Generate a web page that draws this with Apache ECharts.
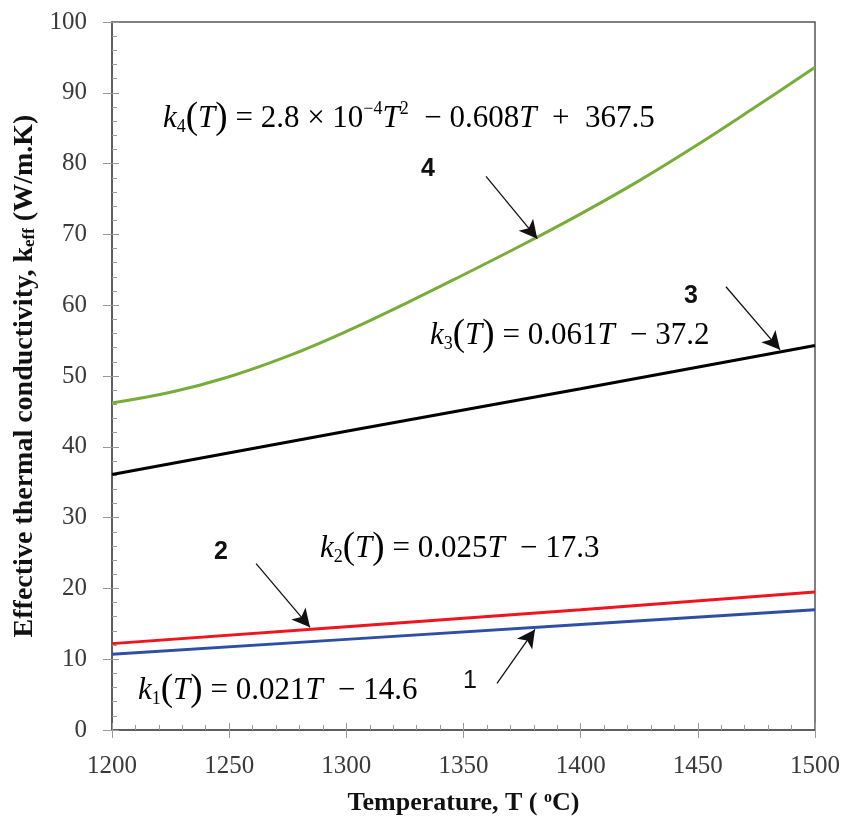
<!DOCTYPE html>
<html>
<head>
<meta charset="utf-8">
<script src="https://cdn.jsdelivr.net/npm/echarts@6/dist/echarts.min.js"></script>
<style>
  html, body { margin: 0; padding: 0; background: #fff; }
  #main { width: 848px; height: 828px; }
</style>
</head>
<body>
<div id="main"></div>
<script>
// values
var temps1 = [1200, 1300, 1400, 1500];
var k1 = [10.7, 12.8, 14.9, 17.0];
var k2 = [12.2, 14.6, 17.0, 19.5];
var k3 = [36.1, 42.2, 48.2, 54.3];
var temps4 = [1200, 1225, 1250, 1275, 1300, 1325, 1350, 1375, 1400, 1425, 1450, 1475, 1500];
var k4 = [46.2, 47.7, 49.9, 52.8, 56.3, 60.2, 64.3, 68.5, 72.9, 77.6, 82.7, 88.1, 93.6];

// arrows: [tail T, tail k, head T, head k]
var arrows = [
  [1364.3, 6.6, 1380.5, 14.2],
  [1261.5, 23.5, 1284.5, 14.5],
  [1462.0, 62.6, 1485.1, 53.7],
  [1359.6, 78.2, 1381.5, 69.4]
];

var xTicks = { min: 1200, max: 1500, interval: 50 };
var yTicks = { min: 0, max: 100, interval: 10 };

function pairs(xs, ys) {
  return xs.map(function (x, i) { return [x, ys[i]]; });
}

var myChart = echarts.init(document.getElementById('main'));

var serif = 'Liberation Serif';
var tickColor = '#555';

var formulaRich = {
  i: { fontFamily: serif, fontStyle: 'italic', fontSize: 31, lineHeight: 36, color: '#111' },
  n: { fontFamily: serif, fontSize: 31, lineHeight: 36, color: '#111' },
  b: { fontFamily: serif, fontSize: 37, lineHeight: 36, color: '#111' },
  s: { fontFamily: serif, fontSize: 18, lineHeight: 18, verticalAlign: 'bottom', color: '#111' },
  p: { fontFamily: serif, fontSize: 18, lineHeight: 18, verticalAlign: 'top', color: '#111' }
};

function formula(text, left, top) {
  return {
    type: 'text',
    left: left,
    top: top,
    style: { text: text, rich: formulaRich }
  };
}

function numLabel(text, left, top, bold) {
  return {
    type: 'text',
    left: left,
    top: top,
    style: {
      text: text,
      fontFamily: 'Liberation Sans',
      fontSize: 25,
      fontWeight: bold ? 'bold' : 'normal',
      fill: '#111'
    }
  };
}

var option = {
  animation: false,
  backgroundColor: '#fff',
  grid: {
    left: 112, right: 33, top: 22, bottom: 98,
    show: true, borderColor: tickColor, borderWidth: 1.5
  },
  xAxis: [
    {
      type: 'value',
      min: xTicks.min, max: xTicks.max, interval: xTicks.interval,
      name: 'Temperature, T ( {p|o}C)',
      nameLocation: 'middle',
      nameGap: 60,
      nameTextStyle: {
        fontFamily: serif, fontWeight: 'bold', fontSize: 26, color: '#111',
        rich: {
          p: { fontFamily: serif, fontWeight: 'bold', fontSize: 16, verticalAlign: 'top', lineHeight: 14, color: '#111' }
        }
      },
      axisLine: { show: true, lineStyle: { color: tickColor, width: 1.5 } },
      axisTick: { show: true, inside: false, length: 8, lineStyle: { color: '#999', width: 1 } },
      axisLabel: {
        fontFamily: serif, fontSize: 25, color: '#3a3a3a', margin: 24,
        formatter: function (v) { return String(v); }
      },
      splitLine: { show: false }
    },
    {
      type: 'value',
      position: 'bottom',
      min: xTicks.min, max: xTicks.max, interval: xTicks.interval,
      axisLine: { show: false },
      axisTick: { show: true, inside: true, length: 7, lineStyle: { color: '#999', width: 1 } },
      minorTick: { show: true, splitNumber: 5, length: 5, lineStyle: { color: '#999', width: 1 } },
      axisLabel: { show: false },
      splitLine: { show: false }
    }
  ],
  yAxis: [
    {
      type: 'value',
      min: yTicks.min, max: yTicks.max, interval: yTicks.interval,
      name: 'Effective thermal conductivity, k{s|eff} (W/m.K)',
      nameLocation: 'middle',
      nameGap: 70,
      nameRotate: 90,
      nameTextStyle: {
        fontFamily: serif, fontWeight: 'bold', fontSize: 28, color: '#111',
        rich: {
          s: { fontFamily: serif, fontWeight: 'bold', fontSize: 17, verticalAlign: 'bottom', lineHeight: 12, color: '#111' }
        }
      },
      axisLine: { show: true, lineStyle: { color: tickColor, width: 1.5 } },
      axisTick: { show: true, inside: false, length: 9, lineStyle: { color: '#999', width: 1 } },
      axisLabel: { fontFamily: serif, fontSize: 25, color: '#3a3a3a', margin: 25 },
      splitLine: { show: false }
    },
    {
      type: 'value',
      position: 'left',
      min: yTicks.min, max: yTicks.max, interval: yTicks.interval,
      axisLine: { show: false },
      axisTick: { show: true, inside: true, length: 7, lineStyle: { color: '#999', width: 1 } },
      minorTick: { show: true, splitNumber: 5, length: 5, lineStyle: { color: '#999', width: 1 } },
      axisLabel: { show: false },
      splitLine: { show: false }
    }
  ],
  series: [
    {
      name: 'k1', type: 'line', showSymbol: false,
      data: pairs(temps1, k1),
      lineStyle: { color: '#2f4fa5', width: 3 }
    },
    {
      name: 'k2', type: 'line', showSymbol: false,
      data: pairs(temps1, k2),
      lineStyle: { color: '#f0141e', width: 3 }
    },
    {
      name: 'k3', type: 'line', showSymbol: false,
      data: pairs(temps1, k3),
      lineStyle: { color: '#000', width: 3 }
    },
    {
      name: 'k4', type: 'line', showSymbol: false, smooth: 0.4,
      data: pairs(temps4, k4),
      lineStyle: { color: '#78ad3c', width: 3 }
    },
    {
      name: 'arrows', type: 'line', data: [], silent: true,
      markLine: {
        silent: true,
        symbol: ['none', 'arrow'],
        symbolSize: [14, 18],
        label: { show: false },
        lineStyle: { color: '#111', width: 1.3, type: 'solid' },
        data: arrows.map(function (a) {
          return [{ coord: [a[0], a[1]] }, { coord: [a[2], a[3]] }];
        })
      }
    }
  ],
  graphic: [
    formula('{i|k}{s|4}{b|(}{i|T}{b|)}{n| = 2.8 × 10}{p|−4}{i|T}{p|2}{n|  − 0.608}{i|T}{n|  +  367.5}', 163, 100),
    formula('{i|k}{s|3}{b|(}{i|T}{b|)}{n| = 0.061}{i|T}{n|  − 37.2}', 430, 317),
    formula('{i|k}{s|2}{b|(}{i|T}{b|)}{n| = 0.025}{i|T}{n|  − 17.3}', 320, 530),
    formula('{i|k}{s|1}{b|(}{i|T}{b|)}{n| = 0.021}{i|T}{n|  − 14.6}', 138, 672),
    numLabel('4', 421, 157, true),
    numLabel('3', 684, 284, true),
    numLabel('2', 214, 540, true),
    numLabel('1', 463, 669, false)
  ]
};

myChart.setOption(option);
</script>
</body>
</html>
